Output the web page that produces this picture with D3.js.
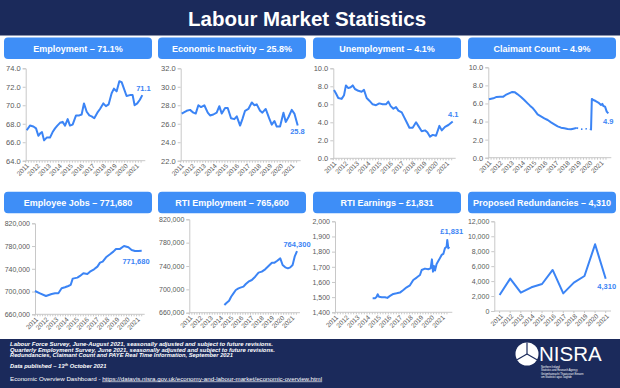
<!DOCTYPE html>
<html><head><meta charset="utf-8">
<script src="https://cdn.jsdelivr.net/npm/d3@7"></script>
<style>
html,body{margin:0;padding:0;background:#fff;}
svg{display:block;font-family:"Liberation Sans",Arial,sans-serif;}
</style></head>
<body>
<svg id="c" width="620" height="388"></svg>
<script>
// ---------- DATA ----------
const years = [2011,2012,2013,2014,2015,2016,2017,2018,2019,2020,2021];

const employment = [[2011.09,67.3],[2011.39,67.8],[2011.70,67.7],[2011.94,67.5],[2012.15,66.7],[2012.36,67.0],[2012.48,67.1],[2012.67,66.2],[2012.91,66.5],[2013.21,66.5],[2013.45,67.1],[2013.67,67.5],[2013.88,67.8],[2014.12,68.1],[2014.36,68.2],[2014.58,67.8],[2014.82,68.5],[2015.03,67.8],[2015.27,67.9],[2015.58,68.9],[2015.88,68.9],[2016.09,69.0],[2016.30,70.2],[2016.55,69.3],[2016.79,68.9],[2017.00,68.8],[2017.24,68.6],[2017.52,69.2],[2017.76,69.6],[2018.06,70.2],[2018.30,69.9],[2018.55,70.1],[2018.82,71.3],[2019.03,71.8],[2019.27,71.5],[2019.52,72.6],[2019.73,72.5],[2019.94,71.8],[2020.18,71.0],[2020.48,71.1],[2020.73,71.1],[2020.91,70.0],[2021.15,70.2],[2021.39,70.6],[2021.61,71.1]];

const inactivity = [[2011.09,27.1],[2011.54,27.4],[2011.85,27.5],[2012.15,27.2],[2012.36,27.1],[2012.60,28.0],[2012.84,27.8],[2013.14,28.0],[2013.45,27.2],[2013.66,26.9],[2013.96,27.0],[2014.26,27.2],[2014.50,27.9],[2014.72,27.1],[2015.02,27.7],[2015.26,27.7],[2015.56,26.6],[2015.86,26.5],[2016.08,26.8],[2016.38,25.8],[2016.59,26.5],[2016.83,27.4],[2017.13,27.6],[2017.44,28.3],[2017.68,28.0],[2017.89,28.1],[2018.19,27.4],[2018.40,27.2],[2018.70,27.6],[2019.01,26.6],[2019.25,25.9],[2019.49,26.3],[2019.70,25.7],[2020.00,25.7],[2020.31,27.2],[2020.52,26.2],[2020.76,26.7],[2021.06,27.5],[2021.30,27.1],[2021.60,25.8]];

const unemployment = [[2011.06,7.6],[2011.24,7.2],[2011.44,6.7],[2011.74,6.6],[2011.95,7.0],[2012.12,8.1],[2012.33,7.8],[2012.54,7.9],[2012.72,8.1],[2012.92,7.7],[2013.22,7.5],[2013.51,7.4],[2013.72,7.6],[2013.96,6.7],[2014.20,6.4],[2014.49,6.0],[2014.79,5.9],[2015.08,6.1],[2015.38,6.0],[2015.67,6.0],[2015.88,6.3],[2016.09,5.8],[2016.33,5.5],[2016.56,5.7],[2016.77,5.3],[2017.07,5.1],[2017.27,4.6],[2017.51,4.0],[2017.75,3.4],[2018.04,3.4],[2018.34,4.0],[2018.54,3.6],[2018.84,3.0],[2019.14,3.1],[2019.34,2.9],[2019.58,2.4],[2019.82,2.6],[2020.11,2.5],[2020.41,3.6],[2020.62,3.1],[2020.91,3.5],[2021.21,3.7],[2021.59,4.1]];

const claimantA = [[2011.06,6.46],[2011.45,6.57],[2011.74,6.72],[2012.04,6.75],[2012.34,6.75],[2012.55,6.94],[2012.85,7.12],[2013.14,7.28],[2013.38,7.23],[2013.62,7.01],[2013.92,6.72],[2014.21,6.38],[2014.51,6.01],[2014.72,5.76],[2014.93,5.53],[2015.17,5.17],[2015.40,4.80],[2015.70,4.58],[2016.00,4.35],[2016.30,4.17],[2016.60,3.91],[2016.89,3.69],[2017.19,3.47],[2017.49,3.32],[2017.79,3.25],[2018.08,3.17],[2018.38,3.15],[2018.59,3.21],[2018.89,3.30]];
const claimantGap = [[2018.89,3.30],[2019.18,3.17],[2019.48,3.14],[2019.78,3.21],[2020.08,3.20]];
const claimantB = [[2020.08,3.20],[2020.17,3.13],[2020.24,6.50],[2020.38,6.38],[2020.58,6.27],[2020.82,6.10],[2021.06,5.83],[2021.18,5.95],[2021.27,5.72],[2021.42,5.65],[2021.57,5.10],[2021.71,4.90]];

const employeeJobs = [[2011.00,701000],[2011.49,696900],[2012.08,692200],[2012.64,695700],[2012.97,696900],[2013.30,697000],[2013.62,705700],[2013.95,707500],[2014.28,709800],[2014.51,711600],[2014.71,722700],[2015.17,724500],[2015.43,727400],[2015.76,732100],[2016.15,730900],[2016.41,735000],[2016.81,739100],[2017.14,743800],[2017.40,750800],[2017.66,752600],[2017.99,760200],[2018.38,765500],[2018.71,770200],[2018.97,774900],[2019.37,775000],[2019.76,780100],[2020.19,777800],[2020.51,773100],[2020.84,771400],[2021.17,771500],[2021.50,771680]];

const rtiEmployment = [[2014.44,673100],[2014.67,677100],[2014.90,680600],[2015.10,687400],[2015.33,693100],[2015.56,698900],[2015.82,701700],[2016.08,703400],[2016.31,704600],[2016.54,709100],[2016.80,713100],[2017.13,716000],[2017.46,721700],[2017.79,728600],[2018.11,730300],[2018.44,734300],[2018.77,740000],[2019.10,745700],[2019.36,745700],[2019.59,748600],[2019.92,753100],[2020.15,741700],[2020.41,737700],[2020.67,736000],[2020.90,737700],[2021.13,741700],[2021.33,756000],[2021.56,765600]];

const rtiEarnings = [[2014.53,1492],[2014.75,1492],[2014.91,1503],[2015.00,1519],[2015.13,1503],[2015.38,1499],[2015.69,1499],[2015.91,1495],[2016.16,1508],[2016.47,1521],[2016.78,1525],[2017.09,1530],[2017.41,1547],[2017.72,1565],[2018.03,1578],[2018.34,1613],[2018.66,1629],[2018.97,1646],[2019.13,1679],[2019.44,1688],[2019.75,1684],[2019.97,1690],[2020.09,1749],[2020.19,1668],[2020.28,1705],[2020.38,1675],[2020.53,1719],[2020.78,1749],[2021.00,1778],[2021.16,1785],[2021.31,1822],[2021.47,1833],[2021.53,1877],[2021.63,1822],[2021.72,1831]];

const redundancyYears = ["2011","2012","2013","2014","2015","2016","2017","2018","2019","2020","2021"];
const redundancies = [2140,4330,2450,3170,3610,5490,2360,3790,4680,8920,4310];

const titles = ["Employment – 71.1%","Economic Inactivity – 25.8%","Unemployment – 4.1%","Claimant Count – 4.9%",
                "Employee Jobs – 771,680","RTI Employment – 765,600","RTI Earnings – £1,831","Proposed Redundancies – 4,310"];
const endLabels = ["71.1","25.8","4.1","4.9","771,680","764,300","£1,831","4,310"];
const yTicks = [
  [64,66,68,70,72,74],[22,24,26,28,30,32],[0,2,4,6,8,10],[0,2,4,6,8,10],
  [660000,700000,740000,780000,820000],[660000,700000,740000,780000,820000],
  [1400,1500,1600,1700,1800,1900,2000],[0,2000,4000,6000,8000,10000,12000]
];
const yFormats = [".1f",".1f",".1f",".1f",",",",",",",","];

// ---------- LAYOUT ----------
const NAVY = "#1b2a5b", BLUE = "#3e8ef7", LINE = "#3b84f5", GREY = "#595959", AXIS = "#c8c8c8";
const panels = [
  {box:[4,37.5],   xr:[25.7,142.3], xd:[2011,2021.61], yr:[160.7,68.3], lab:[143.5,88.3], fs:7.5},
  {box:[158,37.5], xr:[180.7,297.7], xd:[2011,2021.6], yr:[160.7,68.3], lab:[297.5,131.7], fs:7.5},
  {box:[313,37.5], xr:[333.3,452.7], xd:[2011,2021.59], yr:[158.3,68.3], lab:[453.3,114], fs:7.5},
  {box:[468,37.5], xr:[488.3,608.3], xd:[2011,2021.71], yr:[157.7,67.3], lab:[608.3,121], fs:7.5},
  {box:[4,191.7],  xr:[35,141.7],   xd:[2011,2021.5],  yr:[314.3,223.3], lab:[136,261.7], fs:7},
  {box:[158,191.7],xr:[189.3,297],  xd:[2011,2021.56], yr:[312.7,219.3], lab:[297,244], fs:7},
  {box:[313,191.7],xr:[335,449.3],  xd:[2011,2021.72], yr:[312.3,221.3], lab:[451.7,231.7], fs:7},
  {box:[468,191.7],xr:[494.3,611],  xd:null,           yr:[311,221.3], lab:[606.7,286.7], fs:7}
];
const series = [[employment],[inactivity],[unemployment],[claimantA,claimantGap,claimantB],[employeeJobs],[rtiEmployment],[rtiEarnings],null];

const svg = d3.select("#c");
svg.append("rect").attr("x",0).attr("y",0).attr("width",620).attr("height",35.5).attr("fill",NAVY);
svg.append("text").attr("x",307).attr("y",25.5).attr("text-anchor","middle").attr("fill","#fff")
  .attr("font-weight","bold").attr("font-size",20.5).text("Labour Market Statistics");

panels.forEach((p,i)=>{
  svg.append("rect").attr("x",p.box[0]).attr("y",p.box[1]).attr("width",148).attr("height",21.5)
    .attr("rx",4).attr("fill",BLUE);
  svg.append("text").attr("x",p.box[0]+74).attr("y",p.box[1]+14).attr("text-anchor","middle")
    .attr("fill","#fff").attr("font-weight","bold").attr("font-size",9).text(titles[i]);

  const yt = yTicks[i];
  const y = d3.scaleLinear().domain([yt[0], yt[yt.length-1]]).range(p.yr);
  let x, xpos;
  if (p.xd) { x = d3.scaleLinear().domain(p.xd).range(p.xr); xpos = v=>x(v); }
  else { x = d3.scalePoint().domain(redundancyYears).range(p.xr).padding(0.5); xpos = v=>x(v); }

  // y axis
  const ya = svg.append("g").attr("transform",`translate(${p.xr[0]},0)`)
    .call(d3.axisLeft(y).tickValues(yt).tickSize(3).tickPadding(2).tickFormat(d3.format(yFormats[i])));
  ya.select(".domain").attr("stroke",AXIS);
  ya.selectAll(".tick line").attr("stroke",AXIS);
  ya.selectAll("text").attr("fill",GREY).attr("font-size",p.fs).attr("font-family","Liberation Sans, Arial, sans-serif");

  // x axis
  const x0 = p.xr[0], x1 = p.xr[1] + (p.xd ? 3 : 0), yb = p.yr[0];
  svg.append("line").attr("x1",x0).attr("x2",x1).attr("y1",yb).attr("y2",yb).attr("stroke",AXIS);
  let minor, labs;
  if (p.xd) {
    minor = d3.range(Math.ceil(p.xd[0]*4), Math.floor(p.xd[1]*4)+1).map(d=>d/4);
    labs = years.map(v=>({t:String(v), x:x(v)}));
  } else {
    minor = redundancyYears;
    labs = redundancyYears.map(v=>({t:v, x:x(v)}));
  }
  svg.append("g").selectAll("line").data(minor).join("line")
    .attr("x1",d=>xpos(d)).attr("x2",d=>xpos(d)).attr("y1",yb).attr("y2",yb+2).attr("stroke",AXIS);
  svg.append("g").selectAll("text").data(labs).join("text")
    .attr("transform",d=>`translate(${d.x+2},${yb+4}) rotate(-45)`)
    .attr("text-anchor","end").attr("dy","0.35em").attr("fill",GREY).attr("font-size",6.5).text(d=>d.t);

  // lines
  const line = d3.line().x(d=>x(d[0])).y(d=>y(d[1]));
  if (series[i]) {
    series[i].forEach((s,k)=>{
      const path = svg.append("path").datum(s).attr("d",line).attr("fill","none")
        .attr("stroke",LINE).attr("stroke-width",2).attr("stroke-linejoin","round");
      if (i===3 && k===1) path.attr("stroke-dasharray","1.5,3").attr("stroke-width",1.6);
    });
  } else {
    const l2 = d3.line().x((d,j)=>x(redundancyYears[j])).y(d=>y(d));
    svg.append("path").datum(redundancies).attr("d",l2).attr("fill","none")
      .attr("stroke",LINE).attr("stroke-width",2).attr("stroke-linejoin","round");
  }
  svg.append("text").attr("x",p.lab[0]).attr("y",p.lab[1]).attr("dy","0.35em").attr("text-anchor","middle")
    .attr("fill",LINE).attr("font-weight","bold").attr("font-size",7.5).text(endLabels[i]);
});

// ---------- FOOTER ----------
svg.append("rect").attr("x",0).attr("y",339).attr("width",620).attr("height",49).attr("fill",NAVY);
const foot = [
  {t:"Labour Force Survey, June-August 2021, seasonally adjusted and subject to future revisions.", y:346.2, w:263},
  {t:"Quarterly Employment Survey, June 2021, seasonally adjusted and subject to future revisions.", y:351.6, w:265},
  {t:"Redundancies,  Claimant Count and PAYE Real Time Information, September 2021", y:357, w:223}
];
foot.forEach(f=>{
  svg.append("text").attr("x",10).attr("y",f.y).attr("fill","#fff").attr("font-size",5.8)
    .attr("font-style","italic").attr("font-weight","bold")
    .attr("textLength",f.w).attr("lengthAdjust","spacingAndGlyphs").text(f.t);
});
const dp = svg.append("text").attr("x",10).attr("y",368).attr("fill","#fff").attr("font-size",5.8)
  .attr("font-style","italic").attr("font-weight","bold");
dp.append("tspan").text("Data published – 13");
dp.append("tspan").attr("font-size",3.8).attr("dy",-2).text("th");
dp.append("tspan").attr("dy",2).text(" October 2021");
const eo = svg.append("text").attr("x",10).attr("y",380.5).attr("fill","#fff").attr("font-size",6.2);
eo.append("tspan").text("Economic Overview Dashboard  - ");
eo.append("tspan").attr("text-decoration","underline")
  .text("https://datavis.nisra.gov.uk/economy-and-labour-market/economic-overview.html");

// NISRA logo
const lg = svg.append("g");
lg.append("circle").attr("cx",527).attr("cy",354).attr("r",11.5).attr("fill","#fff");
[[-90],[30],[150]].forEach(a=>{
  const r = a[0]*Math.PI/180;
  lg.append("line").attr("x1",527).attr("y1",354).attr("x2",527+11.5*Math.cos(r)).attr("y2",354+11.5*Math.sin(r))
    .attr("stroke",NAVY).attr("stroke-width",1.2);
});
lg.append("text").attr("x",539).attr("y",360.5).attr("fill","#fff").attr("font-size",20.5).text("NISRA");
[["Northern Ireland",367.6],["Statistics and Research Agency",370.6],["Gníomhaireacht Thuaisceart Éireann",375],["um Staitisticí agus Taighde",378]]
  .forEach(t=>lg.append("text").attr("x",541).attr("y",t[1]).attr("fill","#fff").attr("font-size",2.6).text(t[0]));
</script>
</body></html>
